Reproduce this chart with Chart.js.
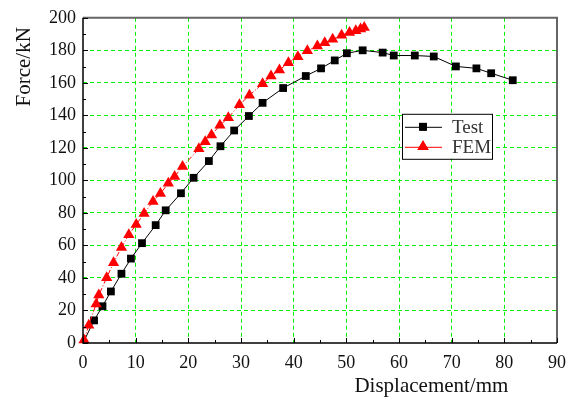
<!DOCTYPE html>
<html>
<head>
<meta charset="utf-8">
<script src="https://cdn.jsdelivr.net/npm/chart.js@4.4.1/dist/chart.umd.min.js"></script>
<style>
  body { margin: 0; background: #fff; }
</style>
</head>
<body>
<canvas id="myChart" width="575" height="401"></canvas>
<script>
// Test curve (black squares)
var testDisp = [0, 2.1, 3.7, 5.3, 7.3, 9.1, 11.2, 13.8, 15.7, 18.6, 21.0, 23.9, 26.1, 28.7, 31.5, 34.1, 38.0, 42.3, 45.2, 47.8, 50.1, 53.1, 56.9, 59.0, 63.0, 66.6, 70.8, 74.7, 77.5, 81.6];
var testForce = [0, 13.9, 22.6, 31.7, 42.6, 51.9, 61.4, 72.5, 81.6, 92.1, 101.6, 111.9, 121.0, 130.7, 139.6, 147.7, 156.8, 164.2, 168.9, 173.8, 178.2, 180.0, 178.6, 176.8, 176.8, 176.2, 170.1, 168.9, 165.9, 161.6];

// FEM curve (red triangles)
var femDisp = [0.2, 1.1, 2.5, 3.0, 4.5, 5.8, 7.3, 8.7, 10.1, 11.6, 13.3, 14.7, 16.2, 17.4, 18.9, 22.0, 23.2, 24.4, 26.0, 27.6, 29.7, 31.6, 34.1, 35.7, 37.3, 39.0, 40.8, 42.6, 44.5, 45.9, 47.4, 49.1, 50.6, 51.8, 52.7, 53.4];
var femForce = [1.8, 10.9, 24.0, 29.5, 40.2, 49.3, 58.8, 66.5, 72.9, 79.6, 87.1, 91.9, 98.2, 102.4, 108.5, 119.4, 123.8, 127.9, 133.9, 138.6, 146.5, 152.3, 159.4, 164.2, 167.9, 172.3, 176.0, 179.8, 182.6, 184.6, 186.8, 189.3, 190.9, 192.1, 193.1, 194.1];

var xMax = 90, xStep = 10;
var yMax = 200, yStep = 20;
var xTitle = "Displacement/mm";
var yTitle = "Force/kN";
var seriesNames = ["Test", "FEM"];

var serif = "'Liberation Serif', 'Times New Roman', serif";
var gridGreen = "#00f000";

function toPoints(xs, ys) {
  return xs.map(function (d, i) {
    return { x: d, y: ys[i] };
  });
}

function gridColor(max) {
  return function (c) {
    if (c.tick && (c.tick.value === 0 || c.tick.value === max)) return "rgba(0,0,0,0)";
    return gridGreen;
  };
}

// frame, inward ticks, axis titles and the legend box
var framePlugin = {
  id: "frame",
  afterDatasetsDraw: function (chart) {
    var ctx = chart.ctx;
    var a = chart.chartArea;
    var xs = chart.scales.x, ys = chart.scales.y;
    ctx.save();

    ctx.strokeStyle = "#666";
    ctx.lineWidth = 2;
    ctx.beginPath();
    ctx.moveTo(a.left, a.top);
    ctx.lineTo(a.right, a.top);
    ctx.lineTo(a.right, a.bottom);
    ctx.stroke();

    ctx.strokeStyle = "#000";
    ctx.lineWidth = 1.5;
    ctx.beginPath();
    ctx.moveTo(a.left, a.top);
    ctx.lineTo(a.left, a.bottom);
    ctx.lineTo(a.right, a.bottom);
    ctx.stroke();

    ctx.lineWidth = 1;
    ctx.beginPath();
    for (var v = 0; v <= xMax; v += xStep / 2) {
      var px = Math.round(xs.getPixelForValue(v)) + 0.5;
      var len = v % xStep === 0 ? 5 : 3;
      ctx.moveTo(px, a.bottom);
      ctx.lineTo(px, a.bottom - len);
    }
    for (var w = 0; w <= yMax; w += yStep / 2) {
      var py = Math.round(ys.getPixelForValue(w)) + 0.5;
      var l2 = w % yStep === 0 ? 5 : 3;
      ctx.moveTo(a.left, py);
      ctx.lineTo(a.left + l2, py);
    }
    ctx.stroke();

    // axis titles
    ctx.fillStyle = "#111";
    ctx.font = "21px " + serif;
    ctx.textAlign = "center";
    ctx.textBaseline = "middle";
    ctx.fillText(xTitle, a.left + (a.right - a.left) * 0.735, a.bottom + 43);
    ctx.save();
    ctx.translate(24, a.top + 49);
    ctx.rotate(-Math.PI / 2);
    ctx.fillText(yTitle, 0, 0);
    ctx.restore();

    // legend
    var bx = a.right - 155, by = a.top + 96, bw = 90, bh = 45;
    ctx.fillStyle = "#fff";
    ctx.fillRect(bx, by, bw, bh);
    ctx.strokeStyle = "#000";
    ctx.lineWidth = 1;
    ctx.strokeRect(bx + 0.5, by + 0.5, bw, bh);

    var rows = [
      { color: "#000", style: "rect", y: by + 13 },
      { color: "#ff0000", style: "triangle", y: by + 33 }
    ];
    rows.forEach(function (r, i) {
      ctx.strokeStyle = r.color;
      ctx.beginPath();
      ctx.moveTo(bx + 3, r.y + 0.5);
      ctx.lineTo(bx + 40, r.y + 0.5);
      ctx.stroke();
      ctx.fillStyle = r.color;
      Chart.helpers.drawPoint(ctx, { pointStyle: r.style, radius: r.style === "rect" ? 5.5 : 6.5, borderWidth: 0 }, bx + 21, r.y);
      ctx.fill();
      ctx.fillStyle = "#333";
      ctx.font = "19px " + serif;
      ctx.textAlign = "left";
      ctx.fillText(seriesNames[i], bx + 50, r.y + 1);
    });

    ctx.restore();
  }
};

var ctx = document.getElementById("myChart");
var chart = new Chart(ctx, {
  type: "scatter",
  data: {
    datasets: [
      {
        label: seriesNames[0],
        data: toPoints(testDisp, testForce),
        showLine: true,
        borderColor: "#000",
        borderWidth: 1,
        backgroundColor: "#000",
        pointStyle: "rect",
        // the first square sits under the FEM triangle at the origin
        pointRadius: testDisp.map(function (d, i) { return i === 0 ? 0 : 5.5; }),
        pointBorderWidth: 0,
        clip: false,
        order: 2
      },
      {
        label: seriesNames[1],
        data: toPoints(femDisp, femForce),
        showLine: true,
        borderColor: "#ff0000",
        borderWidth: 1,
        borderDash: [5, 2, 1, 2],
        backgroundColor: "#ff0000",
        pointStyle: "triangle",
        pointRadius: 6.5,
        pointBorderWidth: 0,
        clip: false,
        order: 1
      }
    ]
  },
  options: {
    responsive: false,
    animation: false,
    layout: { padding: { top: 13, right: 18, left: 0, bottom: 0 } },
    plugins: {
      legend: { display: false },
      tooltip: { enabled: false }
    },
    scales: {
      x: {
        type: "linear",
        min: 0,
        max: xMax,
        border: { display: false, dash: [4, 3] },
        grid: { color: gridColor(xMax), lineWidth: 1, drawTicks: false },
        ticks: {
          stepSize: xStep,
          padding: 9,
          color: "#111",
          font: { family: serif, size: 18 }
        },
        afterFit: function (s) { s.height = 58; }
      },
      y: {
        type: "linear",
        min: 0,
        max: yMax,
        border: { display: false, dash: [4, 3] },
        grid: { color: gridColor(yMax), lineWidth: 1, drawTicks: false },
        ticks: {
          stepSize: yStep,
          padding: 7,
          color: "#111",
          font: { family: serif, size: 18 }
        },
        afterFit: function (s) { s.width = 83; }
      }
    }
  },
  plugins: [framePlugin]
});
</script>
</body>
</html>
